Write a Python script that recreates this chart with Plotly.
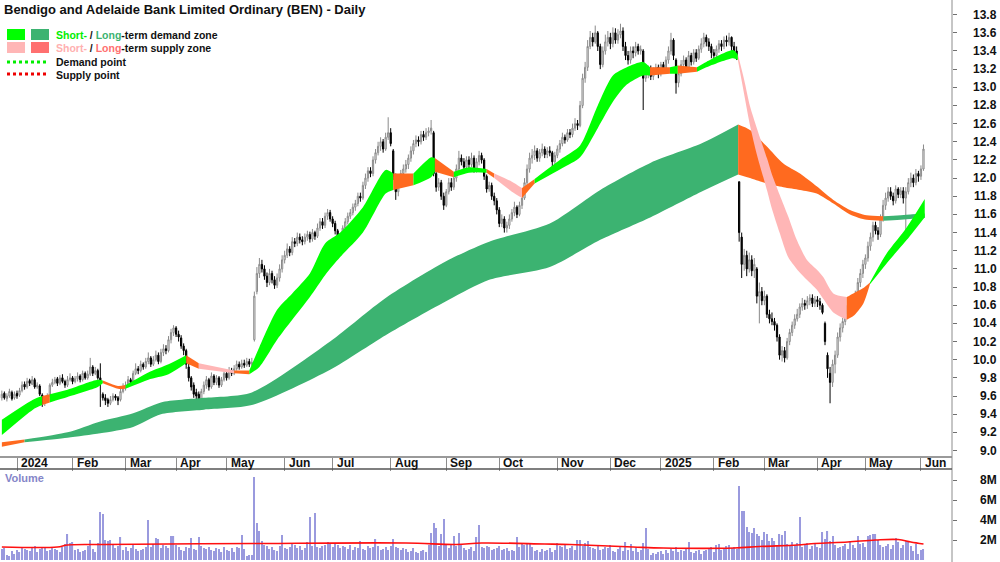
import plotly.graph_objects as go

# ---------------- data ----------------
open_ = [9.58, 9.63, 9.57, 9.60, 9.64, 9.58, 9.63, 9.61, 9.66, 9.73,
         9.70, 9.77, 9.73, 9.78, 9.70, 9.71, 9.61, 9.52, 9.56, 9.60,
         9.72, 9.75, 9.79, 9.74, 9.80, 9.76, 9.72, 9.78, 9.80, 9.76,
         9.79, 9.82, 9.78, 9.85, 9.80, 9.84, 9.92, 9.85, 9.88, 9.80,
         9.62, 9.58, 9.56, 9.52, 9.56, 9.60, 9.58, 9.56, 9.65, 9.70,
         9.72, 9.78, 9.75, 9.85, 9.90, 9.88, 9.95, 9.92, 9.98, 10.02,
         9.95, 10.00, 10.05, 9.98, 10.08, 10.12, 10.10, 10.22, 10.30, 10.35,
         10.28, 10.24, 10.15, 10.10, 9.92, 9.80, 9.72, 9.64, 9.62, 9.56,
         9.65, 9.72, 9.78, 9.70, 9.82, 9.75, 9.80, 9.72, 9.78, 9.85,
         9.80, 9.88, 9.85, 9.90, 9.95, 9.92, 9.96, 9.94, 9.98, 9.95,
         10.22, 10.75, 10.95, 11.05, 11.00, 10.92, 10.85, 10.95, 10.88, 10.82,
         10.90, 11.00, 11.10, 11.15, 11.22, 11.18, 11.30, 11.28, 11.35, 11.32,
         11.30, 11.35, 11.38, 11.33, 11.40, 11.36, 11.45, 11.52, 11.48, 11.58,
         11.62, 11.55, 11.50, 11.42, 11.25, 11.30, 11.45, 11.52, 11.58, 11.62,
         11.68, 11.72, 11.80, 11.78, 11.92, 12.00, 12.08, 12.05, 12.20, 12.28,
         12.35, 12.40, 12.32, 12.45, 12.50, 12.30, 12.00, 11.85, 11.95, 12.05,
         12.10, 12.15, 12.22, 12.30, 12.38, 12.42, 12.40, 12.48, 12.45, 12.50,
         12.52, 12.50, 12.05, 11.90, 11.95, 11.80, 11.70, 11.85, 11.95, 11.90,
         12.00, 12.10, 12.22, 12.18, 12.12, 12.20, 12.15, 12.22, 12.10, 12.18,
         12.25, 12.20, 12.02, 11.88, 11.92, 11.80, 11.75, 11.65, 11.50, 11.55,
         11.45, 11.48, 11.55, 11.62, 11.68, 11.60, 11.70, 11.78, 11.95, 12.10,
         12.22, 12.25, 12.30, 12.22, 12.28, 12.32, 12.26, 12.30, 12.28, 12.18,
         12.25, 12.32, 12.38, 12.45, 12.42, 12.50, 12.48, 12.55, 12.60, 12.58,
         12.80, 13.10, 13.22, 13.45, 13.55, 13.50, 13.60, 13.45, 13.25, 13.40,
         13.50, 13.55, 13.48, 13.60, 13.52, 13.58, 13.62, 13.45, 13.35, 13.30,
         13.40, 13.38, 13.45, 13.40, 13.40, 13.10, 13.15, 13.20, 13.12, 13.18,
         13.22, 13.15, 13.25, 13.20, 13.30, 13.40, 13.52, 13.30, 13.05, 13.15,
         13.25, 13.30, 13.22, 13.35, 13.28, 13.38, 13.32, 13.42, 13.48, 13.55,
         13.50, 13.45, 13.38, 13.35, 13.42, 13.48, 13.45, 13.52, 13.50, 13.55,
         13.45, 13.40, 11.96, 11.35, 11.05, 11.15, 11.00, 11.10, 10.98, 11.00,
         10.70, 10.75, 10.65, 10.70, 10.50, 10.45, 10.42, 10.38, 10.25, 10.05,
         10.10, 10.02, 10.20, 10.30, 10.38, 10.45, 10.50, 10.58, 10.62, 10.60,
         10.65, 10.68, 10.62, 10.66, 10.64, 10.60, 10.40, 10.05, 9.85, 9.75,
         9.95, 10.05, 10.25, 10.35, 10.42, 10.50, 10.60, 10.55, 10.65, 10.72,
         10.85, 10.95, 11.05, 11.12, 11.25, 11.35, 11.48, 11.42, 11.38, 11.55,
         11.70, 11.78, 11.85, 11.80, 11.75, 11.88, 11.82, 11.86, 11.78, 11.85,
         11.95, 12.00, 11.95, 12.05, 12.02, 12.10]

high = [9.66, 9.65, 9.63, 9.68, 9.66, 9.65, 9.66, 9.69, 9.76, 9.76,
        9.80, 9.79, 9.82, 9.80, 9.75, 9.73, 9.63, 9.58, 9.63, 9.74,
        9.79, 9.81, 9.81, 9.83, 9.84, 9.78, 9.82, 9.85, 9.82, 9.82,
        9.86, 9.84, 9.88, 9.87, 9.88, 10.02, 9.94, 9.92, 9.90, 9.96,
        9.64, 9.62, 9.58, 9.60, 9.63, 9.62, 9.60, 9.68, 9.74, 9.76,
        9.82, 9.80, 9.88, 9.96, 9.93, 9.99, 9.97, 10.02, 10.08, 10.04,
        10.04, 10.10, 10.08, 10.12, 10.17, 10.16, 10.26, 10.34, 10.38, 10.37,
        10.32, 10.27, 10.18, 10.12, 9.96, 9.82, 9.75, 9.68, 9.65, 9.68,
        9.76, 9.82, 9.80, 9.86, 9.84, 9.83, 9.82, 9.81, 9.89, 9.88,
        9.92, 9.91, 9.94, 9.99, 9.98, 10.00, 10.00, 10.02, 10.01, 10.02,
        10.75, 11.02, 11.12, 11.10, 11.04, 10.96, 11.00, 10.98, 10.92, 10.95,
        11.05, 11.15, 11.20, 11.28, 11.25, 11.35, 11.34, 11.40, 11.39, 11.36,
        11.39, 11.42, 11.41, 11.44, 11.42, 11.50, 11.56, 11.56, 11.62, 11.66,
        11.65, 11.58, 11.53, 11.44, 11.34, 11.48, 11.56, 11.62, 11.66, 11.72,
        11.76, 11.84, 11.84, 11.96, 12.05, 12.12, 12.12, 12.24, 12.32, 12.40,
        12.45, 12.43, 12.50, 12.67, 12.55, 12.32, 12.05, 12.00, 12.09, 12.15,
        12.20, 12.26, 12.35, 12.42, 12.47, 12.46, 12.52, 12.52, 12.55, 12.56,
        12.64, 12.52, 12.08, 12.00, 11.98, 11.84, 11.88, 12.00, 12.00, 12.06,
        12.15, 12.30, 12.26, 12.22, 12.24, 12.24, 12.28, 12.25, 12.22, 12.30,
        12.28, 12.22, 12.04, 11.96, 11.95, 11.84, 11.78, 11.68, 11.60, 11.58,
        11.52, 11.60, 11.66, 11.74, 11.70, 11.74, 11.82, 12.00, 12.15, 12.28,
        12.32, 12.36, 12.33, 12.32, 12.38, 12.35, 12.34, 12.35, 12.30, 12.29,
        12.36, 12.42, 12.50, 12.48, 12.54, 12.54, 12.60, 12.66, 12.64, 12.85,
        13.15, 13.28, 13.52, 13.62, 13.60, 13.68, 13.62, 13.48, 13.45, 13.58,
        13.62, 13.60, 13.66, 13.65, 13.64, 13.70, 13.66, 13.50, 13.40, 13.45,
        13.45, 13.50, 13.48, 13.46, 13.42, 13.20, 13.24, 13.24, 13.22, 13.26,
        13.25, 13.28, 13.28, 13.34, 13.45, 13.60, 13.54, 13.32, 13.20, 13.30,
        13.35, 13.33, 13.40, 13.38, 13.42, 13.42, 13.46, 13.54, 13.60, 13.58,
        13.54, 13.48, 13.42, 13.46, 13.52, 13.52, 13.56, 13.57, 13.60, 13.56,
        13.50, 13.45, 11.96, 11.40, 11.22, 11.20, 11.18, 11.15, 11.12, 11.02,
        10.85, 10.80, 10.76, 10.72, 10.55, 10.52, 10.46, 10.40, 10.28, 10.15,
        10.14, 10.24, 10.34, 10.42, 10.50, 10.56, 10.62, 10.68, 10.66, 10.70,
        10.72, 10.72, 10.70, 10.70, 10.68, 10.62, 10.42, 10.08, 9.92, 10.00,
        10.10, 10.30, 10.40, 10.46, 10.55, 10.66, 10.65, 10.70, 10.76, 10.90,
        11.00, 11.10, 11.16, 11.30, 11.40, 11.52, 11.52, 11.46, 11.60, 11.76,
        11.84, 11.90, 11.90, 11.84, 11.92, 11.90, 11.90, 11.90, 11.90, 12.00,
        12.06, 12.04, 12.10, 12.08, 12.14, 12.37]

low = [9.55, 9.56, 9.54, 9.58, 9.55, 9.56, 9.57, 9.59, 9.64, 9.67,
       9.68, 9.71, 9.72, 9.68, 9.68, 9.60, 9.48, 9.49, 9.53, 9.59,
       9.70, 9.73, 9.71, 9.72, 9.74, 9.69, 9.70, 9.76, 9.73, 9.74,
       9.76, 9.75, 9.76, 9.78, 9.78, 9.82, 9.82, 9.83, 9.78, 9.48,
       9.55, 9.50, 9.48, 9.50, 9.54, 9.55, 9.50, 9.54, 9.63, 9.66,
       9.70, 9.72, 9.73, 9.83, 9.84, 9.86, 9.89, 9.90, 9.95, 9.92,
       9.93, 9.98, 9.95, 9.96, 10.04, 10.06, 10.08, 10.18, 10.26, 10.25,
       10.20, 10.12, 10.05, 9.90, 9.76, 9.66, 9.58, 9.55, 9.52, 9.54,
       9.62, 9.68, 9.66, 9.68, 9.72, 9.72, 9.69, 9.70, 9.76, 9.77,
       9.78, 9.82, 9.83, 9.88, 9.89, 9.90, 9.91, 9.92, 9.92, 9.93,
       10.20, 10.72, 10.90, 10.96, 10.88, 10.80, 10.82, 10.84, 10.78, 10.79,
       10.86, 10.96, 11.06, 11.12, 11.14, 11.15, 11.24, 11.25, 11.28, 11.26,
       11.27, 11.31, 11.29, 11.30, 11.32, 11.34, 11.42, 11.44, 11.45, 11.54,
       11.52, 11.46, 11.38, 11.20, 11.21, 11.28, 11.42, 11.49, 11.55, 11.59,
       11.64, 11.69, 11.74, 11.76, 11.88, 11.96, 12.01, 12.02, 12.16, 12.25,
       12.30, 12.28, 12.30, 12.42, 12.35, 11.98, 11.76, 11.80, 11.92, 12.00,
       12.06, 12.10, 12.18, 12.26, 12.34, 12.35, 12.37, 12.41, 12.42, 12.46,
       12.48, 12.02, 11.85, 11.86, 11.76, 11.65, 11.68, 11.82, 11.86, 11.87,
       11.96, 12.06, 12.14, 12.08, 12.08, 12.11, 12.12, 12.06, 12.06, 12.14,
       12.16, 11.98, 11.84, 11.85, 11.76, 11.70, 11.60, 11.46, 11.46, 11.40,
       11.40, 11.44, 11.52, 11.58, 11.56, 11.58, 11.66, 11.76, 11.92, 12.06,
       12.16, 12.20, 12.18, 12.18, 12.24, 12.22, 12.22, 12.24, 12.12, 12.15,
       12.22, 12.28, 12.35, 12.38, 12.40, 12.44, 12.45, 12.52, 12.53, 12.56,
       12.77, 13.05, 13.18, 13.42, 13.45, 13.48, 13.40, 13.20, 13.22, 13.36,
       13.45, 13.42, 13.44, 13.48, 13.48, 13.54, 13.40, 13.30, 13.25, 13.26,
       13.32, 13.34, 13.36, 13.36, 12.75, 13.06, 13.10, 13.08, 13.08, 13.14,
       13.10, 13.12, 13.16, 13.18, 13.26, 13.36, 13.30, 12.93, 13.00, 13.12,
       13.20, 13.18, 13.18, 13.24, 13.25, 13.28, 13.30, 13.38, 13.44, 13.45,
       13.40, 13.32, 13.28, 13.32, 13.38, 13.40, 13.42, 13.45, 13.46, 13.40,
       13.36, 13.30, 11.30, 10.90, 10.98, 10.92, 10.96, 10.92, 10.90, 10.62,
       10.40, 10.60, 10.60, 10.46, 10.40, 10.38, 10.32, 10.20, 10.00, 9.98,
       9.97, 10.00, 10.16, 10.26, 10.34, 10.42, 10.46, 10.54, 10.55, 10.56,
       10.60, 10.58, 10.58, 10.58, 10.55, 10.50, 10.16, 9.80, 9.52, 9.70,
       9.85, 10.02, 10.20, 10.30, 10.38, 10.46, 10.50, 10.52, 10.62, 10.70,
       10.80, 10.90, 11.00, 11.08, 11.20, 11.30, 11.38, 11.32, 11.35, 11.52,
       11.65, 11.74, 11.76, 11.70, 11.72, 11.78, 11.78, 11.72, 11.32, 11.82,
       11.90, 11.90, 11.92, 11.96, 11.98, 12.08]

close = [9.62, 9.58, 9.60, 9.65, 9.57, 9.62, 9.60, 9.66, 9.72, 9.70,
         9.76, 9.74, 9.78, 9.70, 9.72, 9.62, 9.52, 9.55, 9.60, 9.72,
         9.75, 9.78, 9.74, 9.80, 9.76, 9.72, 9.78, 9.80, 9.76, 9.79,
         9.82, 9.78, 9.85, 9.80, 9.84, 9.92, 9.85, 9.88, 9.80, 9.75,
         9.58, 9.55, 9.52, 9.56, 9.60, 9.58, 9.55, 9.65, 9.70, 9.72,
         9.78, 9.75, 9.85, 9.90, 9.88, 9.95, 9.92, 9.98, 10.02, 9.95,
         10.00, 10.05, 9.98, 10.08, 10.12, 10.10, 10.22, 10.30, 10.35, 10.28,
         10.25, 10.15, 10.10, 9.95, 9.80, 9.70, 9.62, 9.60, 9.55, 9.65,
         9.72, 9.78, 9.70, 9.82, 9.75, 9.80, 9.72, 9.78, 9.85, 9.80,
         9.88, 9.85, 9.90, 9.95, 9.92, 9.96, 9.94, 9.98, 9.95, 9.97,
         10.70, 10.95, 11.05, 11.00, 10.92, 10.85, 10.95, 10.88, 10.82, 10.90,
         11.00, 11.10, 11.15, 11.22, 11.18, 11.30, 11.28, 11.35, 11.32, 11.30,
         11.35, 11.38, 11.33, 11.40, 11.36, 11.45, 11.52, 11.48, 11.58, 11.62,
         11.55, 11.50, 11.42, 11.25, 11.30, 11.45, 11.52, 11.58, 11.62, 11.68,
         11.72, 11.80, 11.78, 11.92, 12.00, 12.08, 12.05, 12.20, 12.28, 12.35,
         12.40, 12.32, 12.45, 12.50, 12.38, 12.02, 11.85, 11.95, 12.05, 12.10,
         12.15, 12.22, 12.30, 12.38, 12.42, 12.40, 12.48, 12.45, 12.50, 12.52,
         12.55, 12.05, 11.90, 11.95, 11.80, 11.70, 11.85, 11.95, 11.90, 12.00,
         12.10, 12.22, 12.18, 12.12, 12.20, 12.15, 12.22, 12.10, 12.18, 12.25,
         12.20, 12.02, 11.88, 11.92, 11.80, 11.75, 11.65, 11.50, 11.55, 11.45,
         11.48, 11.55, 11.62, 11.68, 11.60, 11.70, 11.78, 11.95, 12.10, 12.22,
         12.25, 12.30, 12.22, 12.28, 12.32, 12.26, 12.30, 12.28, 12.18, 12.25,
         12.32, 12.38, 12.45, 12.42, 12.50, 12.48, 12.55, 12.60, 12.58, 12.80,
         13.10, 13.22, 13.45, 13.55, 13.50, 13.60, 13.45, 13.25, 13.40, 13.50,
         13.55, 13.48, 13.60, 13.52, 13.58, 13.62, 13.45, 13.35, 13.30, 13.40,
         13.38, 13.45, 13.40, 13.42, 13.10, 13.15, 13.20, 13.12, 13.18, 13.22,
         13.15, 13.25, 13.20, 13.30, 13.40, 13.52, 13.35, 13.05, 13.15, 13.25,
         13.30, 13.22, 13.35, 13.28, 13.38, 13.32, 13.42, 13.48, 13.55, 13.50,
         13.45, 13.38, 13.35, 13.42, 13.48, 13.45, 13.52, 13.50, 13.55, 13.45,
         13.40, 13.35, 11.40, 11.05, 11.15, 11.00, 11.10, 10.98, 11.05, 10.70,
         10.75, 10.65, 10.70, 10.50, 10.45, 10.42, 10.38, 10.25, 10.05, 10.10,
         10.02, 10.20, 10.30, 10.38, 10.45, 10.50, 10.58, 10.62, 10.60, 10.65,
         10.68, 10.62, 10.66, 10.64, 10.60, 10.52, 10.20, 9.90, 9.75, 9.95,
         10.05, 10.25, 10.35, 10.42, 10.50, 10.60, 10.55, 10.65, 10.72, 10.85,
         10.95, 11.05, 11.12, 11.25, 11.35, 11.48, 11.42, 11.38, 11.55, 11.70,
         11.78, 11.85, 11.80, 11.75, 11.88, 11.82, 11.86, 11.78, 11.85, 11.95,
         12.00, 11.95, 12.05, 12.02, 12.10, 12.32]

volume_m = [1.1, 1.2, 0.5, 0.4, 0.9, 0.6, 1.0, 0.8, 1.3, 1.1,
            1.0, 0.9, 1.3, 1.4, 0.8, 1.1, 1.3, 1.2, 0.9, 1.0,
            1.2, 1.1, 1.0, 0.8, 1.3, 1.6, 2.6, 1.7, 1.8, 1.0,
            1.1, 0.8, 0.9, 1.0, 1.4, 2.0, 1.1, 0.8, 1.7, 4.8,
            4.6, 2.0, 1.9, 2.0, 1.5, 1.2, 1.4, 2.3, 1.0, 1.3,
            0.9, 1.2, 1.6, 1.1, 0.9, 1.0, 1.1, 1.3, 4.0, 1.3,
            1.6, 2.2, 2.1, 1.2, 1.5, 1.4, 1.2, 2.4, 2.4, 1.5,
            1.3, 1.0, 0.9, 1.3, 1.2, 2.2, 1.1, 1.0, 2.3, 1.4,
            1.2, 1.1, 1.3, 1.0, 0.9, 1.2, 1.1, 0.8, 1.3, 1.0,
            0.9, 1.2, 0.8, 1.3, 1.2, 2.5, 1.1, 0.4, 0.5, 0.5,
            8.3, 3.7, 2.9, 1.9, 1.5, 1.4, 1.1, 1.3, 1.0, 0.9,
            1.4, 2.5, 1.2, 1.1, 1.3, 1.6, 1.5, 1.2, 1.4, 1.0,
            1.2, 1.8, 4.3, 1.4, 4.7, 1.3, 1.2, 1.4, 1.5, 1.8,
            1.6, 1.3, 1.7, 1.5, 1.2, 1.4, 1.3, 1.1, 1.5, 1.0,
            1.3, 1.2, 1.9, 1.1, 1.0, 1.4, 1.2, 1.3, 2.1, 1.4,
            1.0, 1.1, 1.3, 1.0, 1.4, 2.1, 1.3, 1.2, 1.0, 1.2,
            1.1, 0.8, 0.9, 1.2, 0.8, 0.7, 0.9, 1.0, 0.8, 1.5,
            2.7, 3.7, 3.2, 1.4, 2.6, 4.1, 1.5, 1.2, 1.6, 2.4,
            1.4, 2.7, 1.5, 1.2, 1.0, 1.1, 1.3, 0.9, 2.3, 3.5,
            1.3, 1.2, 1.4, 1.3, 1.0, 1.1, 1.2, 1.4, 1.0, 1.1,
            1.2, 0.9, 1.0, 0.9, 2.3, 1.3, 1.6, 1.5, 1.6, 1.7,
            1.3, 0.9, 1.0, 0.8, 1.1, 0.9, 1.0, 1.2, 0.8, 1.0,
            1.7, 1.4, 1.3, 1.5, 1.1, 1.2, 1.4, 1.0, 2.0, 2.0,
            1.4, 1.7, 1.9, 1.3, 1.2, 1.1, 1.4, 1.0, 1.1, 1.3,
            1.2, 1.5, 0.9, 0.8, 1.1, 1.4, 0.9, 1.8, 1.0, 1.6,
            0.9, 1.2, 0.8, 1.0, 1.7, 3.2, 1.1, 0.5, 0.7, 0.6,
            0.8, 0.9, 0.6, 1.0, 0.7, 1.1, 0.9, 1.3, 0.8, 1.0,
            0.9, 1.1, 1.8, 0.8, 0.7, 0.9, 1.0, 0.6, 0.9, 1.0,
            1.1, 1.3, 0.8, 1.5, 1.6, 1.0, 1.2, 1.4, 1.5, 1.2,
            1.3, 1.1, 7.4, 4.9, 4.9, 3.3, 2.8, 2.7, 3.2, 2.6,
            2.4, 2.0, 2.8, 2.6, 1.9, 2.2, 1.9, 1.5, 2.6, 2.5,
            2.9, 1.6, 1.4, 1.8, 1.5, 1.7, 4.3, 1.3, 1.6, 1.7,
            1.1, 1.4, 1.6, 1.3, 1.2, 2.8, 2.1, 2.9, 1.9, 2.4,
            1.5, 1.2, 1.3, 1.4, 1.6, 1.1, 1.9, 1.5, 1.2, 2.4,
            1.6, 1.7, 1.3, 2.4, 2.5, 2.6, 2.6, 2.0, 1.5, 1.3,
            1.4, 1.6, 1.1, 1.5, 2.2, 1.8, 1.2, 1.5, 1.9, 1.9,
            1.4, 0.9, 1.6, 0.6, 1.0, 1.1]

day_index = list(range(len(close)))

# volume moving-average line (millions), read at sample days
vavg_x = [0, 22, 26, 40, 100, 160, 180, 190, 215, 225, 250, 262, 290, 300, 315, 322, 335, 346, 355, 360, 365]
vavg_y = [1.3, 1.3, 1.5, 1.55, 1.65, 1.7, 1.55, 1.7, 1.6, 1.55, 1.3, 1.2, 1.2, 1.35, 1.5, 1.65, 1.8, 2.0, 2.05, 1.8, 1.6]

# short-term zone boundaries (sampled), state of the segment starting at each sample
st_x = [0, 12.3, 16, 19, 26, 38, 40, 46, 49, 58, 66, 73, 78, 92, 98, 102, 109, 115, 122, 128,
        134, 143, 152, 155, 163, 170, 171.5, 179, 185, 192, 195, 202, 206, 211, 222, 229, 236, 242, 247.5, 254,
        256.7, 264.6, 267.7, 275.3, 279,
        289.6, 291.5, 294, 296.3, 299, 303, 305, 308, 311.4, 314.8, 318.8, 322.8, 325.3, 329.3, 334.6,
        337.2, 341.2, 343.8, 350.4, 358.4, 365.5]
st_up = [9.34, 9.56, 9.60, 9.62, 9.67, 9.78, 9.77, 9.71, 9.72, 9.86, 9.95, 10.05, 9.96, 9.88, 9.88, 10.14, 10.55, 10.73, 10.95, 11.28,
         11.40, 11.68, 12.09, 12.05, 12.05, 12.23, 12.22, 12.07, 12.12, 12.10, 12.05, 11.96, 11.89, 11.99, 12.22, 12.36, 12.80, 13.13, 13.22, 13.28,
         13.22, 13.22, 13.24, 13.22, 13.28,
         13.41, 13.36, 13.08, 12.79, 12.55, 12.22, 12.04, 11.82, 11.58, 11.32, 11.10, 10.99, 10.91, 10.73, 10.69,
         10.73, 10.79, 10.85, 11.17, 11.46, 11.77]
st_lo = [9.17, 9.45, 9.50, 9.53, 9.59, 9.70, 9.74, 9.68, 9.68, 9.78, 9.84, 9.96, 9.90, 9.85, 9.84, 9.92, 10.22, 10.44, 10.69, 10.93,
         11.13, 11.40, 11.83, 11.87, 11.92, 12.01, 12.07, 12.01, 12.06, 12.06, 12.00, 11.85, 11.78, 11.94, 12.11, 12.23, 12.55, 12.84, 13.03, 13.13,
         13.13, 13.15, 13.15, 13.17, 13.22,
         13.32, 13.30, 12.92, 12.58, 12.26, 11.87, 11.66, 11.40, 11.13, 11.00, 10.88, 10.77, 10.67, 10.52, 10.44,
         10.48, 10.62, 10.83, 11.06, 11.32, 11.57]
st_state = ['G', 'G', 'O', 'G', 'G', 'G', 'O', 'O', 'G', 'G', 'G', 'O', 'P', 'O', 'G', 'G', 'G', 'G', 'G', 'G',
            'G', 'G', 'G', 'O', 'G', 'G', 'O', 'G', 'G', 'O', 'P', 'P', 'O', 'G', 'G', 'G', 'G', 'G', 'G', 'G',
            'O', 'G', 'O', 'G', 'G',
            'G', 'P', 'P', 'P', 'P', 'P', 'P', 'P', 'P', 'P', 'P', 'P', 'P', 'P', 'O',
            'O', 'O', 'G', 'G', 'G', 'G']

# long-term zone boundaries (sampled)
lt_x = [0, 9, 26, 39, 52, 63, 80, 99, 130, 152, 177, 193, 217, 237, 257, 277, 291.6, 296.3, 302.9, 309.5,
        316.1, 322.7, 329.3, 335.9, 342.5, 349.1, 359.7, 365.5]
lt_up = [9.09, 9.12, 9.20, 9.32, 9.41, 9.53, 9.58, 9.64, 10.20, 10.68, 11.10, 11.30, 11.50, 11.87, 12.17, 12.38, 12.59, 12.53, 12.35, 12.16,
         12.05, 11.91, 11.76, 11.65, 11.59, 11.58, 11.60, 11.61]
lt_lo = [9.04, 9.09, 9.14, 9.19, 9.26, 9.40, 9.45, 9.50, 9.89, 10.27, 10.66, 10.88, 11.02, 11.32, 11.57, 11.85, 12.04, 12.00, 11.94, 11.90,
         11.87, 11.83, 11.72, 11.60, 11.54, 11.53, 11.55, 11.56]
lt_state = ['O', 'D', 'D', 'D', 'D', 'D', 'D', 'D', 'D', 'D', 'D', 'D', 'D', 'D', 'D', 'D', 'O', 'O', 'O', 'O',
            'O', 'O', 'O', 'O', 'O', 'D', 'D', 'D']

month_ticks = [6, 28, 49, 69, 89, 112, 131, 154, 176, 197, 220, 241, 261, 282, 302, 323, 342, 364]
month_labels = ['2024', 'Feb', 'Mar', 'Apr', 'May', 'Jun', 'Jul', 'Aug', 'Sep', 'Oct', 'Nov', 'Dec',
                '2025', 'Feb', 'Mar', 'Apr', 'May', 'Jun']
price_ticks = [9.0, 9.2, 9.4, 9.6, 9.8, 10.0, 10.2, 10.4, 10.6, 10.8, 11.0, 11.2, 11.4, 11.6, 11.8,
               12.0, 12.2, 12.4, 12.6, 12.8, 13.0, 13.2, 13.4, 13.6, 13.8]
price_labels = ['9.0', '9.2', '9.4', '9.6', '9.8', '10.0', '10.2', '10.4', '10.6', '10.8', '11.0', '11.2', '11.4',
                '11.6', '11.8', '12.0', '12.2', '12.4', '12.6', '12.8', '13.0', '13.2', '13.4', '13.6', '13.8']
vol_ticks = [2, 4, 6, 8]
vol_labels = ['2M', '4M', '6M', '8M']

# ---------------- style ----------------
ZONE_COL = {'G': '#00ff00', 'D': '#3cb371', 'P': '#ffb6b6', 'O': '#ff6a1f'}
FONT = "Liberation Sans Narrow, Arial Narrow, Liberation Sans, Arial, sans-serif"
W, H = 1000, 562
PLOT_R = 952


def px(x):
    return x / W


def py(y):
    return 1 - y / H


fig = go.Figure()


def add_zone(xs, up, lo, states):
    n = len(xs)
    j = 0
    while j < n - 1:
        c = states[j]
        k = j
        while k < n - 1 and states[k] == c:
            k += 1
        seg_x = xs[j:k + 1]
        ln = dict(width=0, shape='spline', smoothing=0.7)
        fig.add_trace(go.Scatter(x=seg_x, y=lo[j:k + 1], mode='lines', line=ln,
                                 hoverinfo='skip', showlegend=False, xaxis='x', yaxis='y'))
        fig.add_trace(go.Scatter(x=seg_x, y=up[j:k + 1], mode='lines', line=ln, fill='tonexty',
                                 fillcolor=ZONE_COL[c], hoverinfo='skip', showlegend=False,
                                 xaxis='x', yaxis='y'))
        j = k


add_zone(lt_x, lt_up, lt_lo, lt_state)
add_zone(st_x, st_up, st_lo, st_state)

fig.add_trace(go.Candlestick(
    x=day_index, open=open_, high=high, low=low, close=close,
    increasing=dict(line=dict(color='#8a8a8a', width=1), fillcolor='#ffffff'),
    decreasing=dict(line=dict(color='#000000', width=1), fillcolor='#000000'),
    whiskerwidth=0, showlegend=False, xaxis='x', yaxis='y'))

fig.add_trace(go.Bar(x=day_index, y=volume_m, width=0.45, marker=dict(color='#9a9ade', line=dict(width=0)),
                     showlegend=False, xaxis='x2', yaxis='y2'))
fig.add_trace(go.Scatter(x=vavg_x, y=vavg_y, mode='lines', line=dict(color='#ff1010', width=1.6, shape='spline'),
                         showlegend=False, xaxis='x2', yaxis='y2'))

xr = [-1.85 / 2.525, (PLOT_R - 1.85) / 2.525]

fig.update_layout(
    width=W, height=H, margin=dict(l=0, r=0, t=0, b=0),
    paper_bgcolor='white', plot_bgcolor='white', showlegend=False,
    xaxis=dict(domain=[0, PLOT_R / W], range=xr, anchor='y', tickvals=month_ticks,
               showticklabels=False, ticks='outside', ticklen=13, tickcolor='#8c8c8c', tickwidth=1,
               showline=True, linecolor='#9a9a9a', linewidth=2, showgrid=False, zeroline=False,
               rangeslider=dict(visible=False)),
    xaxis2=dict(domain=[0, PLOT_R / W], range=xr, anchor='y2', showticklabels=False,
                showgrid=False, zeroline=False, showline=False, ticks=''),
    yaxis=dict(domain=[py(456), 1], range=[9 - 5.5 / 90.8, 9 + 450.5 / 90.8], anchor='x', side='right',
               tickvals=price_ticks, showticklabels=False, ticks='outside', ticklen=4, tickcolor='#707070',
               showline=False, showgrid=False, zeroline=False),
    yaxis2=dict(domain=[py(560), py(469)], range=[0, 9.1], anchor='x2', side='right',
                tickvals=vol_ticks, showticklabels=False, ticks='outside', ticklen=4, tickcolor='#707070',
                showline=False, showgrid=False, zeroline=False),
)

shapes = [
    dict(type='line', xref='paper', yref='paper', x0=px(PLOT_R), x1=px(PLOT_R), y0=0, y1=1,
         line=dict(color='#8c8c8c', width=1)),
    dict(type='line', xref='paper', yref='paper', x0=0, x1=px(PLOT_R), y0=py(469), y1=py(469),
         line=dict(color='#555555', width=1.5)),
    # legend swatches
    dict(type='rect', xref='paper', yref='paper', x0=px(7), x1=px(25), y0=py(40), y1=py(29),
         fillcolor='#00ff00', line=dict(width=0)),
    dict(type='rect', xref='paper', yref='paper', x0=px(31), x1=px(49), y0=py(40), y1=py(29),
         fillcolor='#3cb371', line=dict(width=0)),
    dict(type='rect', xref='paper', yref='paper', x0=px(7), x1=px(25), y0=py(53), y1=py(42),
         fillcolor='#ffb6b6', line=dict(width=0)),
    dict(type='rect', xref='paper', yref='paper', x0=px(31), x1=px(49), y0=py(53), y1=py(42),
         fillcolor='#ff7070', line=dict(width=0)),
    dict(type='line', xref='paper', yref='paper', x0=px(7), x1=px(46), y0=py(62), y1=py(62),
         line=dict(color='#00ee00', width=3, dash='dot')),
    dict(type='line', xref='paper', yref='paper', x0=px(7), x1=px(46), y0=py(74), y1=py(74),
         line=dict(color='#ee0000', width=3, dash='dot')),
]
fig.update_layout(shapes=shapes)

LFONT = dict(family=FONT, size=12, color='#111111')
GFONT = dict(family=FONT, size=10.5, color='#111111')
ann = []
for v, t in zip(price_ticks, price_labels):
    ann.append(dict(x=0.999, xref='paper', xanchor='right', y=v, yref='y', yanchor='middle',
                    text='<b>' + t + '</b>', showarrow=False, font=LFONT))
for v, t in zip(vol_ticks, vol_labels):
    ann.append(dict(x=0.999, xref='paper', xanchor='right', y=v, yref='y2', yanchor='middle',
                    text='<b>' + t + '</b>', showarrow=False, font=LFONT))
for v, t in zip(month_ticks, month_labels):
    ann.append(dict(x=v, xref='x', xanchor='left', xshift=2, y=py(462.5), yref='paper', yanchor='middle',
                    text='<b>' + t + '</b>', showarrow=False, font=LFONT))

ann.append(dict(x=px(2), xref='paper', xanchor='left', y=py(9), yref='paper', yanchor='middle', showarrow=False,
                text='<b>Bendigo and Adelaide Bank Limited Ordinary (BEN) - Daily</b>',
                font=dict(family=FONT, size=13, color='#111111')))
ann.append(dict(x=px(54), xref='paper', xanchor='left', y=py(35), yref='paper', yanchor='middle', showarrow=False,
                text="<b><span style='color:#00ee00'>Short-</span> / <span style='color:#3cb371'>Long</span>-term demand zone</b>",
                font=GFONT))
ann.append(dict(x=px(54), xref='paper', xanchor='left', y=py(48), yref='paper', yanchor='middle', showarrow=False,
                text="<b><span style='color:#ffb0b0'>Short-</span> / <span style='color:#ff7070'>Long</span>-term supply zone</b>",
                font=GFONT))
ann.append(dict(x=px(54), xref='paper', xanchor='left', y=py(62), yref='paper', yanchor='middle', showarrow=False,
                text='<b>Demand point</b>', font=GFONT))
ann.append(dict(x=px(54), xref='paper', xanchor='left', y=py(75), yref='paper', yanchor='middle', showarrow=False,
                text='<b>Supply point</b>', font=GFONT))
ann.append(dict(x=px(3), xref='paper', xanchor='left', y=py(478), yref='paper', yanchor='middle', showarrow=False,
                text='<b>Volume</b>', font=dict(family=FONT, size=11, color='#8585c8')))
fig.update_layout(annotations=ann)

fig.write_html("out.html")
